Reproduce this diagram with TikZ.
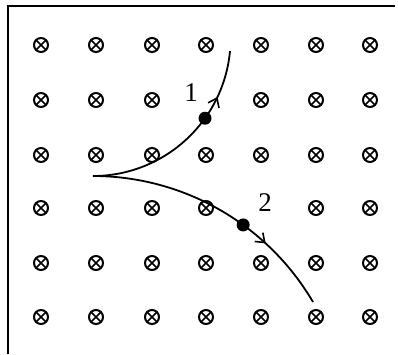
\documentclass[tikz,border=0pt]{standalone}
\usepackage{fontspec}
\setmainfont{Liberation Serif}
\usetikzlibrary{arrows.meta,decorations.markings}
\begin{document}
\begin{tikzpicture}[x=1pt,y=-1pt,
  field/.style={circle,draw,line width=2pt,minimum size=14pt,inner sep=0pt,
    path picture={\draw[line width=1.5pt]
      (path picture bounding box.north west)--(path picture bounding box.south east)
      (path picture bounding box.north east)--(path picture bounding box.south west);}},
  track/.style={line width=1.8pt},
  dot/.style={circle,fill,inner sep=0pt,minimum size=13pt},
  barb/.style={decoration={markings,
    mark=at position #1 with {\arrow{Straight Barb[length=8pt,width=12pt,line width=1.6pt]}}},
    postaction={decorate}},
  lbl/.style={font=\fontsize{27}{27}\selectfont,inner sep=0pt}]
\useasboundingbox (0,0) rectangle (398,354);
\draw[line width=1.4pt] (8,354) -- (8,6) -- (395,6);
\foreach \c/\x in {1/41,2/96,3/152,4/206,5/261,6/316,7/370}
  \foreach \r/\y in {1/45,2/100,3/155,4/208,5/263,6/317}{
    \ifnum\r\c=24\relax\else\ifnum\r\c=45\relax\else
      \node[field] (s\r\c) at (\x,\y) {};
    \fi\fi}
\coordinate (o) at (93,176);
\coordinate (e1) at (230,51);
\coordinate (e2) at (313,302);
\draw[track, barb=0.765]
  (o) .. controls (164,176) and (223.5,121.7) .. (e1) node[dot,pos=0.646] (d1) {};
\draw[track, barb=0.715]
  (o) .. controls (183.4,176) and (267.3,224.1) .. (e2) node[dot,pos=0.606] (d2) {};
\node[lbl] (l1) at (191,93) {1};
\node[lbl] (l2) at (265,203) {2};
\end{tikzpicture}
\end{document}
